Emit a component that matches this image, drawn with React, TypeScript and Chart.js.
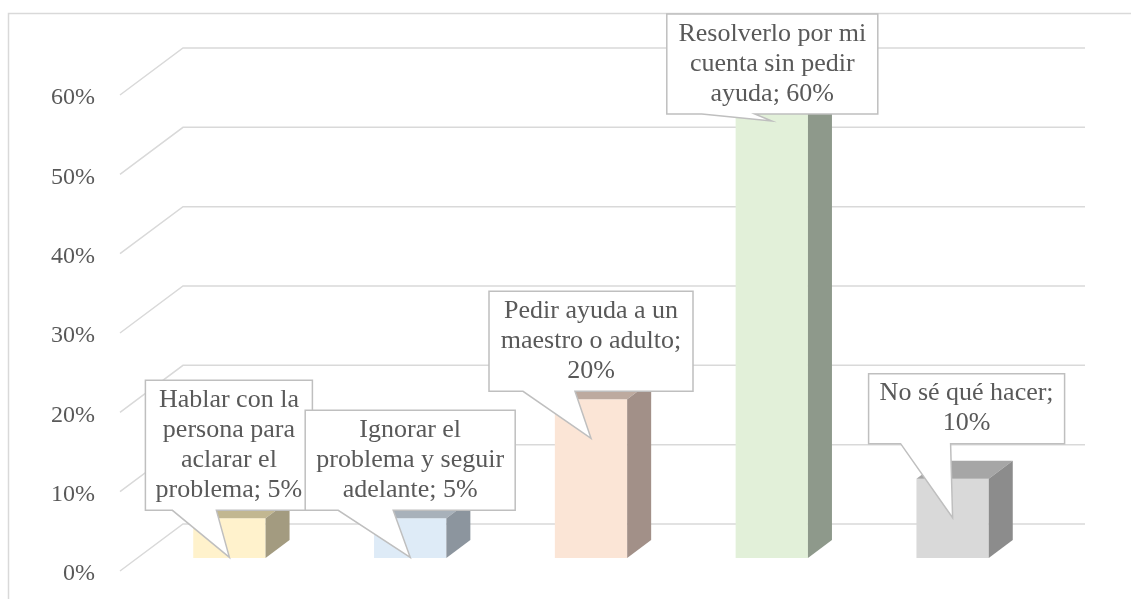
import React, { useEffect, useRef } from 'react';
import { Chart, registerables } from 'chart.js';

Chart.register(...registerables);

// ---- data ----
const categories = [
  'Hablar con la persona para aclarar el problema',
  'Ignorar el problema y seguir adelante',
  'Pedir ayuda a un maestro o adulto',
  'Resolverlo por mi cuenta sin pedir ayuda',
  'No sé qué hacer',
];
const values = [5, 5, 20, 60, 10];
const yTicks = [0, 10, 20, 30, 40, 50, 60];

// ---- styles ----
const frontColors = ['#FFF2CC', '#DEEBF7', '#FBE5D6', '#E2F0D9', '#D9D9D9'];
const topColors = ['#C2B791', '#A8B1BA', '#BDAA9F', '#AAB5A3', '#A6A6A6'];
const sideColors = ['#A39B80', '#8C959E', '#A29088', '#8E998B', '#8C8C8C'];
const FONT = "'Liberation Serif', 'Times New Roman', serif";
const TEXT = '#595959';
const GRID = '#D9D9D9';
const DEPTH_X = 24;
const DEPTH_Y = 18;

// callout layout: box centre offset from tip, box width, box bottom offset from tip, tail base offsets
const calloutLayout = [
  { dx: -0.5, w: 167, bottom: -47, tail: [-57, -13] },
  { dx: 0, w: 210, bottom: -47, tail: [-72, -17] },
  { dx: 0, w: 204, bottom: -47, tail: [-68, -16] },
  { dx: 0.5, w: 211, bottom: -7, tail: [-70, -17] },
  { dx: 14, w: 196, bottom: -74, tail: [-52, -2] },
];

function wrap(ctx: CanvasRenderingContext2D, text: string, maxW: number): string[] {
  const words = text.split(' ');
  const lines: string[] = [];
  let cur = '';
  for (const w of words) {
    const test = cur ? cur + ' ' + w : w;
    if (cur && ctx.measureText(test).width > maxW) {
      lines.push(cur);
      cur = w;
    } else {
      cur = test;
    }
  }
  if (cur) lines.push(cur);
  return lines;
}

const threeD = {
  id: 'threeD',
  beforeDraw(chart: any) {
    const ctx = chart.ctx;
    ctx.save();
    ctx.strokeStyle = GRID;
    ctx.lineWidth = 1.5;
    ctx.beginPath();
    ctx.moveTo(8.5, chart.height);
    ctx.lineTo(8.5, 13.5);
    ctx.lineTo(chart.width, 13.5);
    ctx.stroke();
    ctx.restore();
  },
  beforeDatasetsDraw(chart: any) {
    const ctx = chart.ctx;
    const y = chart.scales.y;
    const area = chart.chartArea;
    ctx.save();
    ctx.strokeStyle = GRID;
    ctx.lineWidth = 1.5;
    for (const t of yTicks) {
      const py = y.getPixelForValue(t);
      ctx.beginPath();
      ctx.moveTo(area.left - 19, py + 13);
      ctx.lineTo(area.left + 44, py - 34);
      ctx.lineTo(area.right + 42, py - 34);
      ctx.stroke();
    }
    ctx.restore();
  },
  afterDatasetsDraw(chart: any) {
    const ctx = chart.ctx;
    const meta = chart.getDatasetMeta(0);
    ctx.save();
    // 3D faces
    meta.data.forEach((el: any, i: number) => {
      const L = el.x - el.width / 2;
      const R = el.x + el.width / 2;
      const T = el.y;
      const B = el.base;
      ctx.fillStyle = topColors[i];
      ctx.beginPath();
      ctx.moveTo(L, T);
      ctx.lineTo(R, T);
      ctx.lineTo(R + DEPTH_X, T - DEPTH_Y);
      ctx.lineTo(L + DEPTH_X, T - DEPTH_Y);
      ctx.closePath();
      ctx.fill();
      ctx.fillStyle = sideColors[i];
      ctx.beginPath();
      ctx.moveTo(R, T);
      ctx.lineTo(R + DEPTH_X, T - DEPTH_Y);
      ctx.lineTo(R + DEPTH_X, B - DEPTH_Y);
      ctx.lineTo(R, B);
      ctx.closePath();
      ctx.fill();
    });
    // callouts
    ctx.font = `26px ${FONT}`;
    meta.data.forEach((el: any, i: number) => {
      const lay = calloutLayout[i];
      const tx = el.x;
      const ty = el.y + 39;
      const text = `${categories[i]}; ${values[i]}%`;
      const lines = wrap(ctx, text, lay.w - 14);
      const h = 30 * lines.length + 10;
      const cx = tx + lay.dx;
      const Lb = cx - lay.w / 2;
      const Rb = cx + lay.w / 2;
      const Bb = ty + lay.bottom;
      const Tb = Bb - h;
      ctx.beginPath();
      ctx.moveTo(Lb, Tb);
      ctx.lineTo(Rb, Tb);
      ctx.lineTo(Rb, Bb);
      ctx.lineTo(tx + lay.tail[1], Bb);
      ctx.lineTo(tx, ty);
      ctx.lineTo(tx + lay.tail[0], Bb);
      ctx.lineTo(Lb, Bb);
      ctx.closePath();
      ctx.fillStyle = '#FFFFFF';
      ctx.fill();
      ctx.strokeStyle = '#BFBFBF';
      ctx.lineWidth = 1.5;
      ctx.lineJoin = 'miter';
      ctx.stroke();
      ctx.fillStyle = TEXT;
      ctx.textAlign = 'center';
      ctx.textBaseline = 'middle';
      const mid = Tb + h / 2;
      lines.forEach((ln, k) => {
        ctx.fillText(ln, cx, mid + (k - (lines.length - 1) / 2) * 30);
      });
    });
    ctx.restore();
  },
};

export default function App() {
  const ref = useRef<HTMLCanvasElement>(null);
  useEffect(() => {
    const canvas = ref.current!;
    const chart = new Chart(canvas, {
      type: 'bar',
      data: {
        labels: categories,
        datasets: [
          {
            data: values,
            backgroundColor: frontColors,
            borderWidth: 0,
            barPercentage: 0.4,
            categoryPercentage: 1,
          },
        ],
      },
      options: {
        responsive: false,
        animation: false,
        devicePixelRatio: 1,
        layout: { padding: { top: 82, right: 88, bottom: 41, left: 0 } },
        plugins: { legend: { display: false }, tooltip: { enabled: false } },
        scales: {
          x: { display: false },
          y: {
            min: 0,
            max: 60,
            afterFit: (s: any) => {
              s.width = 139;
            },
            afterBuildTicks: (s: any) => {
              s.ticks = yTicks.map((v) => ({ value: v }));
            },
            ticks: {
              padding: 0,
              labelOffset: 16,
              color: TEXT,
              font: { family: FONT, size: 24 },
              callback: (v: any) => `${v}%`,
            },
            grid: { display: false, drawTicks: true, tickLength: 44 },
            border: { display: false },
          },
        },
      },
      plugins: [threeD],
    } as any);
    return () => chart.destroy();
  }, []);
  return (
    <div style={{ position: 'fixed', left: 0, top: 0, width: 1131, height: 599, background: '#fff' }}>
      <canvas ref={ref} width={1131} height={599} style={{ display: 'block' }} />
    </div>
  );
}
